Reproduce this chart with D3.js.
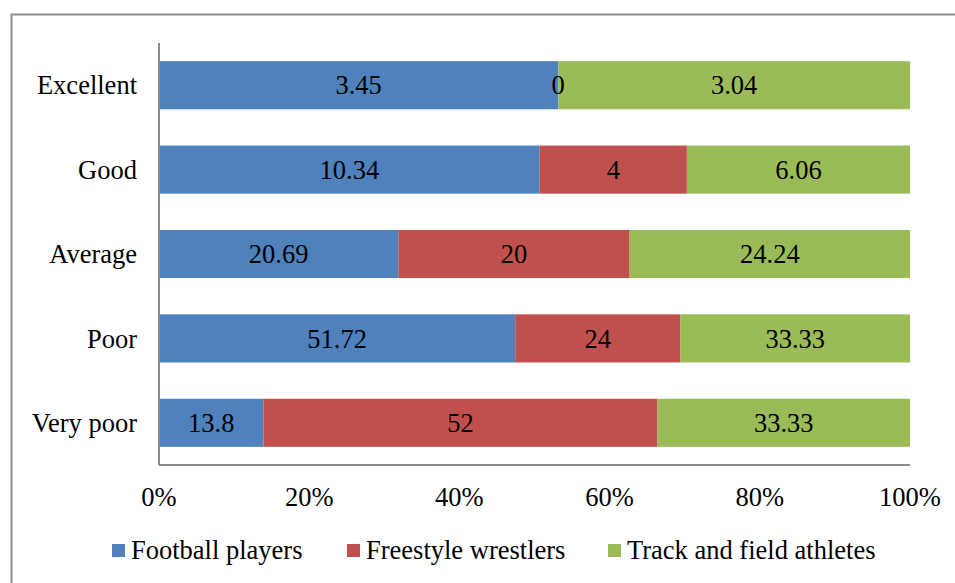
<!DOCTYPE html>
<html>
<head>
<meta charset="utf-8">
<script src="https://cdn.jsdelivr.net/npm/d3@7"></script>
<style>
  body { margin: 0; background: #fff; }
  svg { display: block; }
</style>
</head>
<body>
<div id="chart"></div>
<script>
// data
const categories = ["Excellent", "Good", "Average", "Poor", "Very poor"];
const seriesNames = ["Football players", "Freestyle wrestlers", "Track and field athletes"];
const football = [3.45, 10.34, 20.69, 51.72, 13.8];
const wrestlers = [0, 4, 20, 24, 52];
const athletes = [3.04, 6.06, 24.24, 33.33, 33.33];
const tickValues = [0, 0.2, 0.4, 0.6, 0.8, 1];
const colors = ["#4F81BD", "#C0504D", "#9BBB59"];

const width = 955, height = 583;
const margin = { left: 159, right: 45, top: 43, bottom: 118 };
const fontSize = 26.5;
const serif = '"Liberation Serif"';

const svg = d3.select("#chart").append("svg")
    .attr("width", width)
    .attr("height", height);

// outer frame (runs off the right / bottom edge)
svg.append("rect")
    .attr("x", 11.5).attr("y", 14.5)
    .attr("width", 960).attr("height", 600)
    .attr("fill", "none")
    .attr("stroke", "#8c8c8c")
    .attr("stroke-width", 2);

const x = d3.scaleLinear().domain([0, 1]).range([margin.left, width - margin.right]);
const y = d3.scaleBand().domain(categories).range([margin.top, height - margin.bottom]).paddingInner(0.43).paddingOuter(0.215);

// build rows for the stack
const rows = categories.map((c, i) => {
    const vals = [football[i], wrestlers[i], athletes[i]];
    const total = d3.sum(vals);
    const r = { cat: c };
    seriesNames.forEach((s, j) => { r[s] = vals[j] / total; r[s + "_raw"] = vals[j]; });
    return r;
});

const stack = d3.stack().keys(seriesNames);
const layers = stack(rows);

// bars first, then all labels on top
const barG = svg.append("g");
const labelG = svg.append("g");
layers.forEach((layer, j) => {
    barG.append("g").selectAll("rect")
        .data(layer)
        .enter().append("rect")
        .attr("x", d => x(d[0]))
        .attr("y", d => y(d.data.cat))
        .attr("width", d => x(d[1]) - x(d[0]))
        .attr("height", y.bandwidth())
        .attr("fill", colors[j]);
    labelG.append("g").selectAll("text")
        .data(layer)
        .enter().append("text")
        .attr("x", d => (x(d[0]) + x(d[1])) / 2)
        .attr("y", d => y(d.data.cat) + y.bandwidth() / 2)
        .attr("dy", "0.35em")
        .attr("text-anchor", "middle")
        .style("font-family", serif)
        .attr("font-size", fontSize)
        .attr("fill", "#000")
        .text(d => d.data[layer.key + "_raw"]);
});

// axes
svg.append("line")
    .attr("x1", margin.left).attr("x2", margin.left)
    .attr("y1", margin.top).attr("y2", height - margin.bottom)
    .attr("stroke", "#8c8c8c").attr("stroke-width", 2);
svg.append("line")
    .attr("x1", margin.left).attr("x2", width - margin.right)
    .attr("y1", height - margin.bottom).attr("y2", height - margin.bottom)
    .attr("stroke", "#8c8c8c").attr("stroke-width", 2);

// category labels
svg.append("g").selectAll("text")
    .data(categories)
    .enter().append("text")
    .attr("x", margin.left - 22)
    .attr("y", d => y(d) + y.bandwidth() / 2)
    .attr("dy", "0.35em")
    .attr("text-anchor", "end")
    .style("font-family", serif)
    .attr("font-size", fontSize)
    .text(d => d);

// x tick labels
svg.append("g").selectAll("text")
    .data(tickValues)
    .enter().append("text")
    .attr("x", d => x(d))
    .attr("y", 506)
    .attr("text-anchor", "middle")
    .style("font-family", serif)
    .attr("font-size", fontSize)
    .text(d => d3.format(".0%")(d));

// legend
const legendX = [112, 347, 608];
const legend = svg.append("g");
seriesNames.forEach((s, j) => {
    legend.append("rect")
        .attr("x", legendX[j]).attr("y", 544)
        .attr("width", 13).attr("height", 13)
        .attr("fill", colors[j]);
    legend.append("text")
        .attr("x", legendX[j] + 19).attr("y", 559)
        .style("font-family", serif)
        .attr("font-size", fontSize)
        .text(s);
});
</script>
</body>
</html>
